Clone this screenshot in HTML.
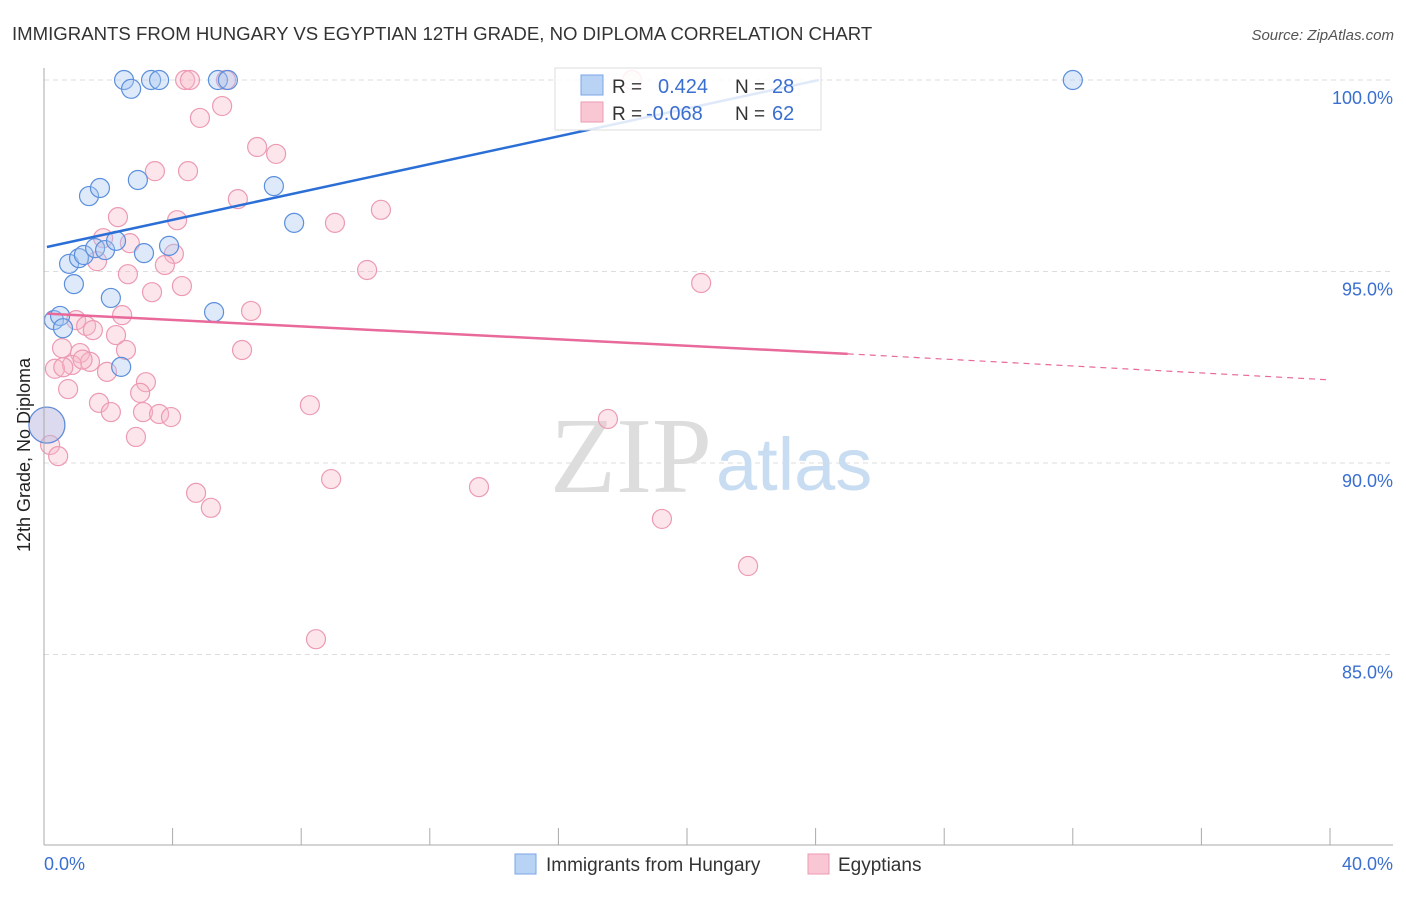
<!DOCTYPE html>
<html><head><meta charset="utf-8"><style>
body{margin:0;background:#fff;font-family:"Liberation Sans",sans-serif}
</style></head><body>
<svg width="1406" height="892" xmlns="http://www.w3.org/2000/svg">
<text x="12" y="40" font-size="18.6" fill="#333">IMMIGRANTS FROM HUNGARY VS EGYPTIAN 12TH GRADE, NO DIPLOMA CORRELATION CHART</text>
<text x="1394" y="40" font-size="15" fill="#555" font-style="italic" text-anchor="end">Source: ZipAtlas.com</text>
<g id="grid"></g>
<text x="712" y="492" font-size="108" font-family="Liberation Serif,serif" fill="#ddd" text-anchor="end">ZIP</text>
<text x="716" y="490" font-size="74" fill="#c8dcf2">atlas</text>
<g id="pts"></g>
<g id="lines"></g>
<line x1="44" y1="68" x2="44" y2="845" stroke="#aaa"/>
<line x1="44" y1="845" x2="1393" y2="845" stroke="#aaa"/>
<text x="30" y="455" font-size="18" fill="#222" text-anchor="middle" transform="rotate(-90 30 455)">12th Grade, No Diploma</text>
<text x="44" y="870" font-size="18" fill="#3a6fd0">0.0%</text>
<text x="1393" y="870" font-size="18" fill="#3a6fd0" text-anchor="end">40.0%</text>
<g>
<rect x="555" y="68" width="266" height="62" fill="#fff" fill-opacity="0.85" stroke="#ddd"/>
<rect x="581" y="75" width="22" height="20" fill="#b9d3f5" stroke="#7aa6e6"/>
<rect x="581" y="102" width="22" height="20" fill="#f9c6d4" stroke="#ec9ab3"/>
<text x="612" y="93" font-size="19" fill="#333">R =</text><text x="658" y="93" font-size="20" fill="#3a6fd0">0.424</text>
<text x="735" y="93" font-size="19" fill="#333">N =</text><text x="772" y="93" font-size="20" fill="#3a6fd0">28</text>
<text x="612" y="120" font-size="19" fill="#333">R =</text><text x="646" y="120" font-size="20" fill="#3a6fd0">-0.068</text>
<text x="735" y="120" font-size="19" fill="#333">N =</text><text x="772" y="120" font-size="20" fill="#3a6fd0">62</text>
</g>
<g>
<rect x="515" y="854" width="21" height="20" fill="#b9d3f5" stroke="#7aa6e6"/>
<text x="546" y="871" font-size="19" fill="#333">Immigrants from Hungary</text>
<rect x="808" y="854" width="21" height="20" fill="#f9c6d4" stroke="#ec9ab3"/>
<text x="838" y="871" font-size="19" fill="#333">Egyptians</text>
</g>
</svg>
<script>
const yTicks=[100,95,90,85];
const yTickLabels=["100.0%","95.0%","90.0%","85.0%"];
const xTickVals=[0,4,8,12,16,20,24,28,32,36,40];
const blueX=[2.49,2.71,3.33,3.58,5.41,5.72,32.0,1.40,1.74,2.92,7.15,7.78,0.78,1.09,1.24,1.59,1.90,2.24,3.11,3.89,0.93,2.08,5.29,0.31,0.50,0.59,2.40,0.09];
const blueY=[100,99.77,100,100,100,100,100,96.97,97.18,97.39,97.23,96.27,95.20,95.35,95.43,95.61,95.56,95.80,95.48,95.67,94.67,94.31,93.94,93.73,93.84,93.52,92.51,90.99];
const pinkX=[4.39,4.54,5.66,18.29,5.54,4.85,6.63,7.22,3.45,4.48,2.30,4.14,6.03,9.05,10.48,2.67,1.84,4.04,1.65,3.76,2.61,10.05,3.36,4.29,20.44,6.44,2.43,1.00,1.31,1.52,2.24,0.56,2.55,6.16,1.12,1.43,0.87,0.34,1.96,3.17,0.75,2.99,1.71,2.08,3.08,3.58,3.95,8.27,17.54,2.86,0.09,0.19,0.44,8.93,13.53,4.73,5.19,19.22,21.90,8.46,0.6,1.2];
const pinkY=[100,100,100,100,99.32,99.01,98.25,98.07,97.62,97.62,96.42,96.34,96.89,96.27,96.61,95.74,95.87,95.46,95.27,95.17,94.93,95.04,94.46,94.62,94.70,93.97,93.86,93.73,93.58,93.47,93.34,93.00,92.95,92.95,92.87,92.64,92.56,92.46,92.38,92.11,91.93,91.83,91.57,91.33,91.33,91.28,91.20,91.51,91.15,90.68,90.99,90.47,90.18,89.58,89.37,89.22,88.83,88.54,87.31,85.40,92.5,92.7];
const blueTrend=[0.09,95.64,24.1,100];
const pinkTrend=[0.09,93.9,25.0,92.85,40,92.17];
const sx=v=>44+v*32.15, sy=v=>80+(100-v)*38.3;
const NS="http://www.w3.org/2000/svg";
function mk(tag,attrs,parent){const e=document.createElementNS(NS,tag);for(const k in attrs)e.setAttribute(k,attrs[k]);parent.appendChild(e);return e;}
const grid=document.getElementById('grid');
yTicks.forEach((t,i)=>{
 const l=mk('line',{x1:44,x2:1393,y1:sy(t),y2:sy(t),stroke:'#ddd','stroke-dasharray':'5,4'},grid);
 
 
 const tx=mk('text',{x:1393,y:sy(t)+24,'font-size':18,fill:'#3a6fd0','text-anchor':'end'},grid);
 tx.textContent=yTickLabels[i];
 
 
});
xTickVals.forEach(t=>{
 const l=mk('line',{x1:sx(t),x2:sx(t),y1:828,y2:845,stroke:'#aaa'},grid);
 
 
});
const pts=document.getElementById('pts');
pinkX.forEach((x,i)=>{
 const big=(i===50);
 const c=mk('circle',{cx:sx(x),cy:sy(pinkY[i]),r:big?18:9.5,fill:'#f6b6c9','fill-opacity':0.35,stroke:'#ec9ab3','stroke-width':1.2},pts);
 
 
});
blueX.forEach((x,i)=>{
 const big=(i===27);
 const c=mk('circle',{cx:sx(x),cy:sy(blueY[i]),r:big?18:9.5,fill:'#a9c8f2','fill-opacity':0.38,stroke:'#5b8fdc','stroke-width':1.2},pts);
 
 
});
const ln=document.getElementById('lines');
const b=mk('line',{x1:sx(blueTrend[0]),y1:sy(blueTrend[1]),x2:sx(blueTrend[2]),y2:sy(blueTrend[3]),stroke:'#2b6fd6','stroke-width':2.5},ln);


const p=mk('line',{x1:sx(pinkTrend[0]),y1:sy(pinkTrend[1]),x2:sx(pinkTrend[2]),y2:sy(pinkTrend[3]),stroke:'#e8699a','stroke-width':2.5},ln);


const pd=mk('line',{x1:sx(pinkTrend[2]),y1:sy(pinkTrend[3]),x2:sx(pinkTrend[4]),y2:sy(pinkTrend[5]),stroke:'#e8699a','stroke-width':1.2,'stroke-dasharray':'6,5'},ln);


</script>
</body></html>
